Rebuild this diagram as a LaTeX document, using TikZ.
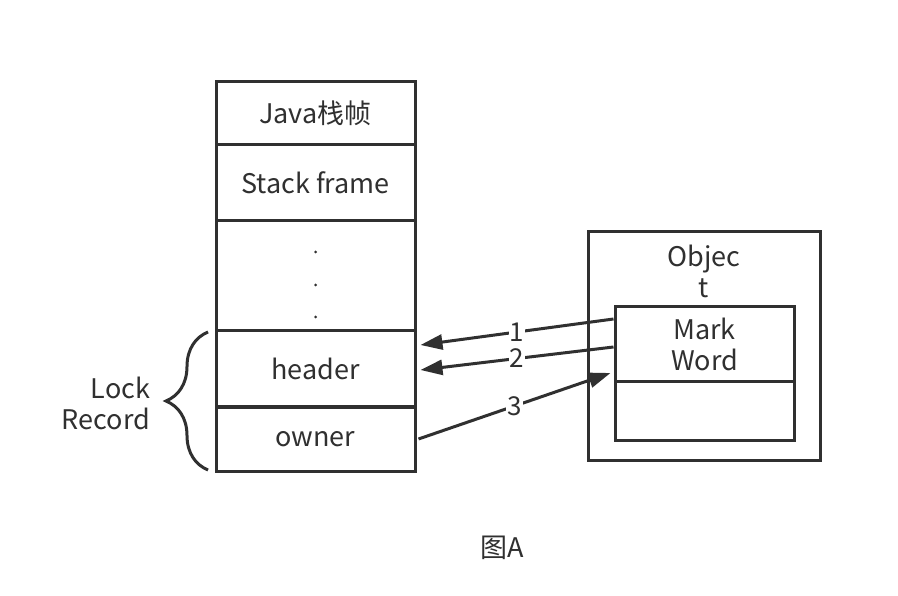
\documentclass[tikz,border=0pt]{standalone}
\usepackage{fontspec}
\setmainfont{Noto Sans CJK SC}
\usetikzlibrary{calc, arrows.meta, decorations.pathreplacing}
\definecolor{ink}{HTML}{303030}

\tikzset{
	cell/.style={draw, minimum width=199pt, inner sep=0pt, align=center},
	ptr/.style={-{Triangle[length=22pt, width=15pt]}, line width=3pt},
	num/.style={fill=white, inner sep=1pt, font=\fontsize{26}{30}\selectfont}
}

\begin{document}
\begin{tikzpicture}[x=1pt, y=-1pt, line width=3pt, draw=ink, text=ink, font=\fontsize{27}{31}\selectfont]
	\useasboundingbox[fill=white] (0,0) rectangle (898,596);

	% stack frame column
	\node[cell, minimum height=63pt] (jv) at (315.5,113.5) {Java栈帧};
	\node[cell, minimum height=76pt] (sf) at (315.5,183) {Stack frame};
	\node[cell, minimum height=110pt] (dt) at (315.5,276) {};
	\node[cell, minimum height=76pt] (hd) at (315.5,369) {header};
	\node[cell, minimum height=64pt] (ow) at (315.5,439) {\raisebox{-3pt}{owner}};
	\foreach \y in {-24,9,41}
		\fill[ink] ($(dt.center)+(0,\y)$) circle (1.5pt);

	% lock record brace
	\draw[decorate, decoration={brace, amplitude=42pt, aspect=0.5}] (208,470) -- (208,332);
	\node[anchor=east, align=right] (lr) at (155,403) {Lock\\Record};

	% object
	\node[cell, minimum width=232pt, minimum height=228pt] (ob) at (704,346) {};
	\node[align=center] (ot) at (704,271) {Objec\\t};
	\node[cell, minimum width=179pt, minimum height=75pt] (mk) at (704.5,344.5) {Mark\\Word};
	\node[cell, minimum width=179pt, minimum height=58pt] (lo) at (704.5,411) {};

	% pointers
	\draw[ptr] ([yshift=25.5pt]mk.west) -- node[num] {1} ([xshift=4pt, yshift=24pt]hd.east);
	\draw[ptr] ([yshift=-2.5pt]mk.west) -- node[num] {2} ([xshift=4pt, yshift=-1pt]hd.east);
	\draw[ptr] ([xshift=2pt]ow.east) -- node[num] {3} ([xshift=-3pt, yshift=-28.5pt]mk.west);

	\node (cap) at (502,548) {图A};
\end{tikzpicture}
\end{document}
